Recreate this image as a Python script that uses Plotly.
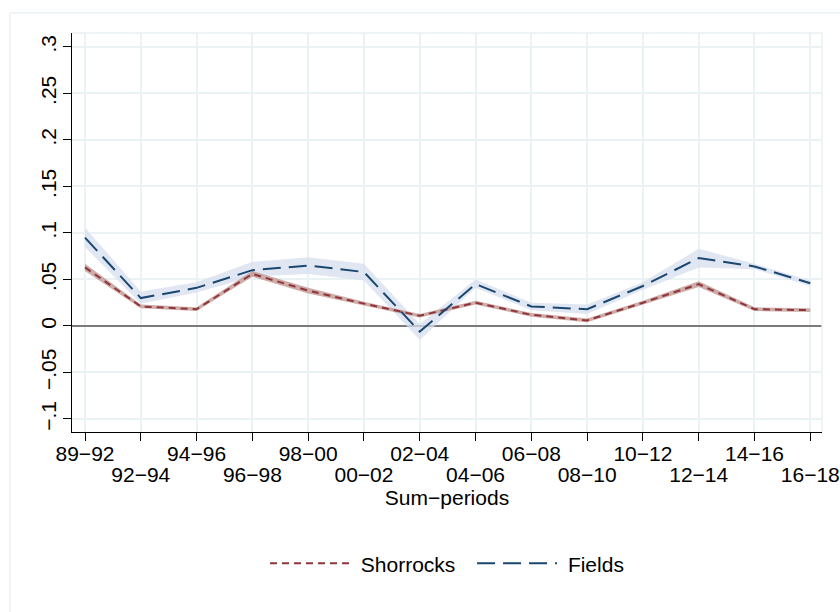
import plotly.graph_objects as go

# Sub-period labels (x categories)
periods = ["89−92", "92−94", "94−96", "96−98", "98−00", "00−02", "02−04",
           "04−06", "06−08", "08−10", "10−12", "12−14", "14−16", "16−18"]

# Shorrocks index: estimate and confidence bounds
shorrocks = [0.063, 0.021, 0.018, 0.056, 0.038, 0.024, 0.011,
             0.025, 0.012, 0.006, 0.025, 0.045, 0.018, 0.017]
shorrocks_lo = [0.059, 0.019, 0.016, 0.053, 0.035, 0.022, 0.009,
                0.023, 0.010, 0.004, 0.023, 0.042, 0.016, 0.015]
shorrocks_hi = [0.067, 0.023, 0.020, 0.059, 0.041, 0.026, 0.013,
                0.027, 0.014, 0.008, 0.027, 0.048, 0.020, 0.019]

# Fields index: estimate and confidence bounds
fields = [0.095, 0.030, 0.041, 0.060, 0.065, 0.058, -0.006,
          0.045, 0.021, 0.018, 0.043, 0.073, 0.064, 0.046]
fields_lo = [0.085, 0.024, 0.036, 0.053, 0.056, 0.049, -0.015,
             0.041, 0.017, 0.013, 0.039, 0.063, 0.061, 0.043]
fields_hi = [0.106, 0.037, 0.047, 0.069, 0.074, 0.067, 0.002,
             0.050, 0.025, 0.023, 0.047, 0.083, 0.067, 0.049]

y_ticks = [-0.1, -0.05, 0, 0.05, 0.1, 0.15, 0.2, 0.25, 0.3]
y_labels = ["−.1", "−.05", "0", ".05", ".1", ".15", ".2", ".25", ".3"]

FONT = "Liberation Sans, Arial, Helvetica, sans-serif"
FS = 21
NAVY = "#1a476f"
MAROON = "#90353b"
GRID = "#eaf2f3"
NBSP = "\u00a0"

x = list(range(len(periods)))
fig = go.Figure()


def band(lo, hi, color):
    fig.add_trace(go.Scatter(x=x, y=lo, mode="lines", line=dict(width=0),
                             showlegend=False, hoverinfo="skip"))
    fig.add_trace(go.Scatter(x=x, y=hi, mode="lines", line=dict(width=0),
                             fill="tonexty", fillcolor=color,
                             showlegend=False, hoverinfo="skip"))


band(fields_lo, fields_hi, "rgba(214,223,238,0.75)")
band(shorrocks_lo, shorrocks_hi, "rgba(190,145,140,0.75)")

fig.add_trace(go.Scatter(x=x, y=shorrocks, mode="lines",
                         name=NBSP + "Shorrocks" + NBSP * 2,
                         line=dict(color=MAROON, width=2, dash="7px,5px")))
fig.add_trace(go.Scatter(x=x, y=fields, mode="lines",
                         name=NBSP + "Fields",
                         line=dict(color=NAVY, width=2, dash="18px,8px")))

odd = x[1::2]

fig.update_layout(
    width=840, height=612,
    margin=dict(l=72, r=18, t=33, b=180, autoexpand=False),
    paper_bgcolor="white", plot_bgcolor="white",
    font=dict(family=FONT, size=FS, color="black"),
    showlegend=True,
    legend=dict(orientation="h", x=0.5, xanchor="center",
                y=-0.33, yanchor="middle", itemwidth=80,
                font=dict(size=FS), traceorder="normal"),
    xaxis=dict(
        range=[-0.233, 13.21], tickmode="array", automargin=False,
        tickvals=x, ticktext=[periods[i] if i % 2 == 0 else "" for i in x],
        ticks="outside", ticklen=8, tickwidth=1, tickcolor="black",
        showline=True, linecolor="black", linewidth=1.3,
        showgrid=True, gridcolor=GRID, gridwidth=1.5,
        zeroline=False, tickfont=dict(size=FS), ticklabelstandoff=-5,
        title=dict(text="Sum−periods", standoff=25, font=dict(size=FS)),
    ),
    xaxis2=dict(
        overlaying="x", range=[-0.233, 13.21], tickmode="array",
        tickvals=odd, ticktext=[periods[i] for i in odd], automargin=False,
        side="bottom", anchor="y", ticks="", showline=False,
        showgrid=False, zeroline=False, ticklabelstandoff=28,
        tickfont=dict(size=FS),
    ),
    yaxis=dict(
        range=[-0.114, 0.315], tickmode="array", automargin=False,
        tickvals=y_ticks, ticktext=y_labels, tickangle=-90,
        ticks="outside", ticklen=8, tickwidth=1, tickcolor="black",
        showline=True, linecolor="black", linewidth=1.3,
        showgrid=True, gridcolor=GRID, gridwidth=1.5,
        zeroline=True, zerolinecolor="#7a7a7a", zerolinewidth=2,
        tickfont=dict(size=FS), ticklabelstandoff=-2,
    ),
)

# invisible helper trace so the second x axis (odd labels) is drawn
fig.add_trace(go.Scatter(x=odd, y=[shorrocks[i] for i in odd], xaxis="x2",
                         mode="markers", marker=dict(opacity=0),
                         showlegend=False, hoverinfo="skip"))

# Plot region frame (top/right) and outer graph region border
fig.add_shape(type="line", xref="paper", yref="paper", x0=0, x1=1, y0=1, y1=1,
              line=dict(color=GRID, width=1.5))
fig.add_shape(type="line", xref="paper", yref="paper", x0=1, x1=1, y0=0, y1=1,
              line=dict(color=GRID, width=1.5))
fig.add_shape(type="rect", xref="paper", yref="paper",
              x0=(10 - 72) / 750, x1=(860 - 72) / 750,
              y0=(432 - 640) / 399, y1=(432 - 13) / 399,
              line=dict(color=GRID, width=1.5), layer="below")

fig.write_html("out.html")
